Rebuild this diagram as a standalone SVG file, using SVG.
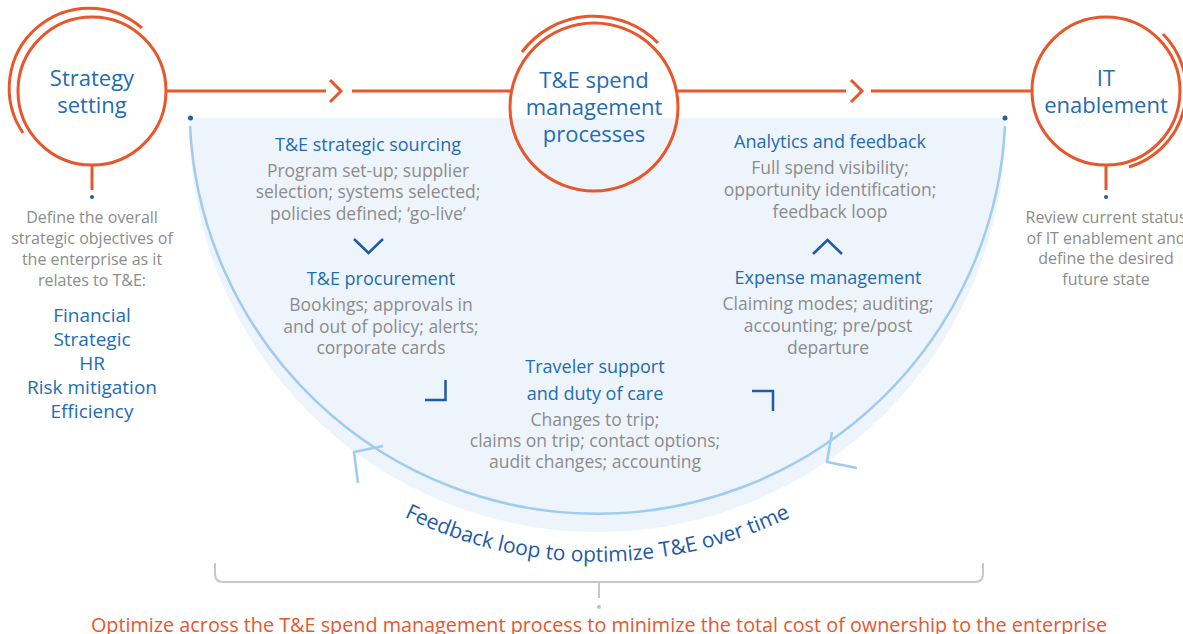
<svg xmlns="http://www.w3.org/2000/svg" width="1183" height="634" viewBox="0 0 1183 634">
<style>
text{font-family:"Open Sans","Noto Sans","Liberation Sans",sans-serif;text-anchor:middle;dominant-baseline:central}
.ct{font-size:22px;fill:#1f6cb4}
.hd{font-size:18px;fill:#1f6cb4}
.gy{font-size:17.5px;fill:#8c8c8c}
.gs{font-size:16px;fill:#8c8c8c}
.bl{font-size:19px;fill:#1f6cb4}
.or{fill:none;stroke:#e8572b;stroke-width:3}
.chev{fill:none;stroke:#1f5aa6;stroke-width:2.5}
.lb{fill:none;stroke:#9fcbee;stroke-width:2.5}
.dot{fill:#1f5fa8}
.gl{fill:none;stroke:#c8c8c8;stroke-width:2}
</style>
<g id="loop-area">
<path d="M190,118 H1005.5 V124 A408 408 0 0 1 189.5 124 Z" fill="#eef4fb"/>
</g>
<g id="connectors">
<path class="or" d="M166,91 H326"/>
<path class="or" d="M330,80 L341,91 L330,102"/>
<path class="or" d="M352,91 H511"/>
<path class="or" d="M677,91 H846"/>
<path class="or" d="M851,80 L862,91 L851,102"/>
<path class="or" d="M871,91 H1032"/>
<path class="or" d="M92,165 V190"/>
<circle class="dot" cx="92" cy="197" r="2"/>
<path class="or" d="M1106,165 V190"/>
<circle class="dot" cx="1106" cy="197" r="2"/>
<circle class="dot" cx="190.5" cy="118" r="2.5"/>
<circle class="dot" cx="1005" cy="118" r="2.5"/>
<path class="lb" d="M190,126 A408 408 0 0 0 1005,126"/>
<path class="lb" d="M383,446 L354,452 L358,483"/>
<path class="lb" d="M832,432 L827,462 L857,468"/>
<path class="chev" d="M354,239 L368.5,253 L383,239"/>
<path class="chev" d="M813,254 L827.5,240 L842,254"/>
<path class="chev" d="M425,400 H445.5 V380"/>
<path class="chev" d="M752,391 H773 V411"/>
<path class="gl" d="M215,563 V574 Q215,582 223,582 H975 Q983,582 983,574 V563"/>
<path class="gl" d="M599,582 V598"/>
<circle cx="599" cy="607" r="2" fill="#c0c0c0"/>
</g>
<g id="node-strategy">
<circle class="or" cx="92" cy="91" r="74"/>
<path class="or" d="M142,28 A80 80 0 0 0 23,133"/>
<text class="ct" x="92" y="77">Strategy</text>
<text class="ct" x="92" y="104">setting</text>
<text class="gs" x="92" y="217">Define the overall</text>
<text class="gs" x="92" y="238">strategic objectives of</text>
<text class="gs" x="92" y="259">the enterprise as it</text>
<text class="gs" x="92" y="280">relates to T&amp;E:</text>
<text class="bl" x="92" y="315">Financial</text>
<text class="bl" x="92" y="339">Strategic</text>
<text class="bl" x="92" y="363">HR</text>
<text class="bl" x="92" y="387">Risk mitigation</text>
<text class="bl" x="92" y="411">Efficiency</text>
</g>
<g id="node-te-spend">
<circle class="or" cx="594" cy="107" r="84" fill="#ffffff"/>
<path class="or" d="M522,52 A90 90 0 0 1 658,43"/>
<text class="ct" x="594" y="79">T&amp;E spend</text>
<text class="ct" x="594" y="106">management</text>
<text class="ct" x="594" y="133">processes</text>
</g>
<g id="node-it">
<circle class="or" cx="1106" cy="91" r="74"/>
<path class="or" d="M1163,34 A80 80 0 0 1 1129,167"/>
<text class="ct" x="1106" y="77">IT</text>
<text class="ct" x="1106" y="104">enablement</text>
<text class="gs" x="1106" y="217">Review current status</text>
<text class="gs" x="1106" y="238">of IT enablement and</text>
<text class="gs" x="1106" y="258">define the desired</text>
<text class="gs" x="1106" y="279">future state</text>
</g>
<g id="node-sourcing">
<text class="hd" x="368" y="144">T&amp;E strategic sourcing</text>
<text class="gy" x="368" y="170">Program set-up; supplier</text>
<text class="gy" x="368" y="191">selection; systems selected;</text>
<text class="gy" x="368" y="213">policies defined; ‘go-live’</text>
</g>
<g id="node-procurement">
<text class="hd" x="381" y="278">T&amp;E procurement</text>
<text class="gy" x="381" y="304">Bookings; approvals in</text>
<text class="gy" x="381" y="326">and out of policy; alerts;</text>
<text class="gy" x="381" y="347">corporate cards</text>
</g>
<g id="node-traveler">
<text class="hd" x="595" y="366">Traveler support</text>
<text class="hd" x="595" y="393">and duty of care</text>
<text class="gy" x="595" y="419">Changes to trip;</text>
<text class="gy" x="595" y="440">claims on trip; contact options;</text>
<text class="gy" x="595" y="461">audit changes; accounting</text>
</g>
<g id="node-expense">
<text class="hd" x="828" y="277">Expense management</text>
<text class="gy" x="828" y="303">Claiming modes; auditing;</text>
<text class="gy" x="828" y="325">accounting; pre/post</text>
<text class="gy" x="828" y="347">departure</text>
</g>
<g id="node-analytics">
<text class="hd" x="830" y="141">Analytics and feedback</text>
<text class="gy" x="830" y="167">Full spend visibility;</text>
<text class="gy" x="830" y="189">opportunity identification;</text>
<text class="gy" x="830" y="211">feedback loop</text>
</g>
<g id="feedback-label">
<path id="fbarc" d="M159.5,124 A438 438 0 0 0 1035.5,124" fill="none"/>
<text style="font-size:21px;fill:#1f5aa6;dominant-baseline:alphabetic"><textPath href="#fbarc" startOffset="50%">Feedback loop to optimize T&amp;E over time</textPath></text>
</g>
<g id="bottom-note">
<text x="599" y="624" style="font-size:19.8px;fill:#e8572b">Optimize across the T&amp;E spend management process to minimize the total cost of ownership to the enterprise</text>
</g>
</svg>
